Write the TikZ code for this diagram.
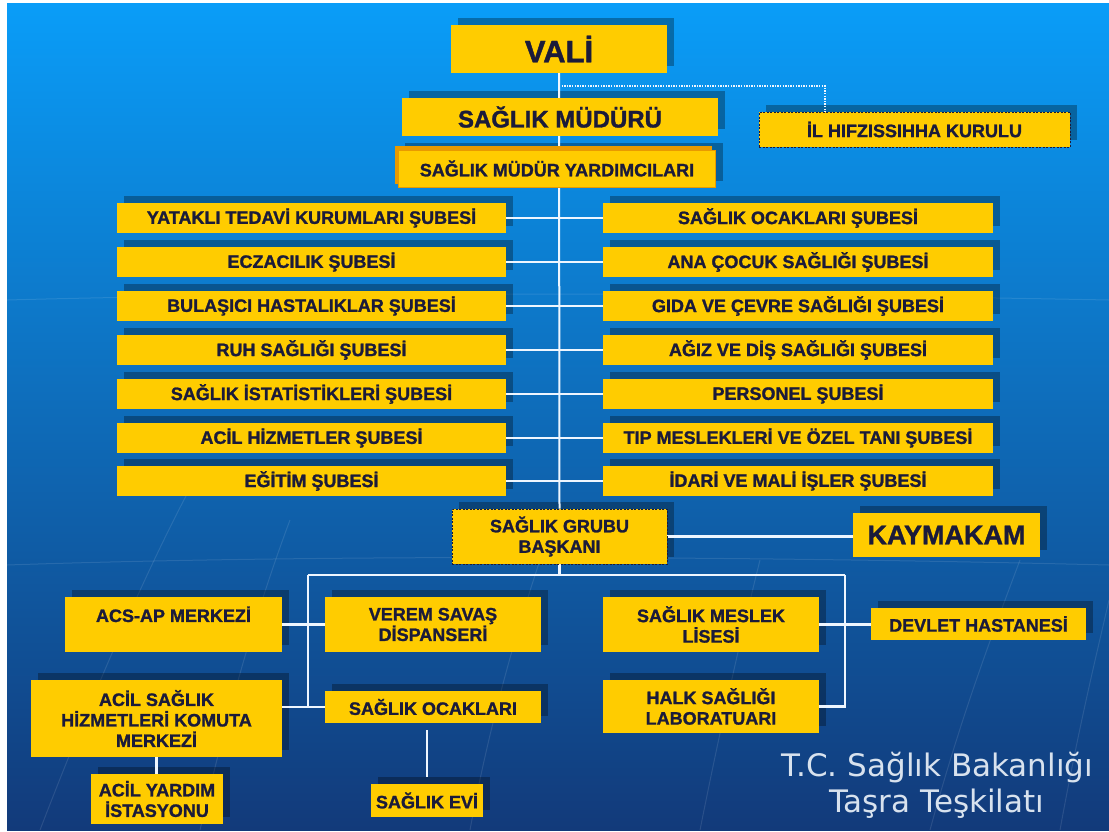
\documentclass[tikz,border=0pt]{standalone}
\usepackage{fontspec}
\setmainfont{Liberation Sans}[BoldFeatures={FakeBold=1.3}]
\newfontfamily\titlefont{DejaVu Sans}
\usetikzlibrary{calc}
\definecolor{boxy}{HTML}{FFCC00}
\definecolor{navy}{HTML}{1B1B3A}
\definecolor{orangec}{HTML}{E89A00}
\definecolor{bgtop}{HTML}{0A9DF8}
\definecolor{bgmid}{HTML}{0A70CA}
\definecolor{bgbot}{HTML}{123A7A}
\definecolor{linec}{HTML}{EEF6FF}
\definecolor{titlec}{HTML}{D8E2EE}
\pgfdeclarelayer{bg}
\pgfdeclarelayer{shad}
\pgfdeclarelayer{lines}
\pgfsetlayers{bg,shad,lines,main}
\tikzset{
  box/.style={fill=boxy, text=navy, inner sep=0pt, align=center,
    font=\bfseries\fontsize{18}{20.5}\selectfont},
  dashbox/.style={box, draw=navy, line width=0.9pt, dash pattern=on 2pt off 1.5pt},
  rowL/.style={box, minimum width=389pt, minimum height=30pt},
  rowR/.style={box, minimum width=390pt, minimum height=30pt},
  conn/.style={draw=linec, line width=2.6pt},
  dotline/.style={draw=linec, line width=2pt, dash pattern=on 1.3pt off 1.3pt},
  globe/.style={draw=white, opacity=0.10, line width=1pt},
  shadowbox/.style={fill=black, opacity=0.3}
}
\begin{document}
\begin{tikzpicture}[x=1pt,y=-1pt]
\useasboundingbox (0,0) rectangle (1109,831);
\begin{pgfonlayer}{bg}
  \fill[white] (0,0) rectangle (1109,831);
  \shade[top color=bgtop, middle color=bgmid, bottom color=bgbot] (7,3) rectangle (1109,830);
  % faint globe lines
  \draw[globe] (40,830) .. controls (90,700) and (150,560) .. (200,470);
  \draw[globe] (200,830) .. controls (230,700) and (260,600) .. (290,520);
  \draw[globe] (470,830) .. controls (490,720) and (520,620) .. (540,560);
  \draw[globe] (700,830) .. controls (720,730) and (740,640) .. (760,560);
  \draw[globe] (930,830) .. controls (960,720) and (990,640) .. (1020,560);
  \draw[globe] (1060,830) .. controls (1080,720) and (1100,640) .. (1109,600);
  \draw[globe] (7,565) .. controls (300,555) and (700,555) .. (1109,565);
  \draw[globe] (7,300) .. controls (300,292) and (700,292) .. (1109,300);
\end{pgfonlayer}

% top
\node[box, minimum width=216pt, minimum height=48pt, font=\bfseries\fontsize{31}{34}\selectfont] (vali) at (559,49) {VALİ};
\node[box, minimum width=316pt, minimum height=38pt, font=\bfseries\fontsize{24}{28}\selectfont] (sm) at (560,117) {SAĞLIK MÜDÜRÜ};
\node[dashbox, minimum width=311pt, minimum height=35pt] (hifz) at (914.5,129.5) {İL HIFZISSIHHA KURULU};
\fill[orangec] (395,146) rectangle (712,184);
\node[box, draw=orangec, line width=1pt, minimum width=317pt, minimum height=37pt] (smy) at (557,168.5) {SAĞLIK MÜDÜR YARDIMCILARI};

% branches
\node[rowL] (l1) at (311.5,218) {YATAKLI TEDAVİ KURUMLARI ŞUBESİ};
\node[rowL] (l2) at (311.5,262) {ECZACILIK ŞUBESİ};
\node[rowL] (l3) at (311.5,306) {BULAŞICI HASTALIKLAR ŞUBESİ};
\node[rowL] (l4) at (311.5,350) {RUH SAĞLIĞI ŞUBESİ};
\node[rowL] (l5) at (311.5,394) {SAĞLIK İSTATİSTİKLERİ ŞUBESİ};
\node[rowL] (l6) at (311.5,438) {ACİL HİZMETLER ŞUBESİ};
\node[rowL] (l7) at (311.5,481) {EĞİTİM ŞUBESİ};
\node[rowR] (r1) at (798,218) {SAĞLIK OCAKLARI ŞUBESİ};
\node[rowR] (r2) at (798,262) {ANA ÇOCUK SAĞLIĞI ŞUBESİ};
\node[rowR] (r3) at (798,306) {GIDA VE ÇEVRE SAĞLIĞI ŞUBESİ};
\node[rowR] (r4) at (798,350) {AĞIZ VE DİŞ SAĞLIĞI ŞUBESİ};
\node[rowR] (r5) at (798,394) {PERSONEL ŞUBESİ};
\node[rowR] (r6) at (798,438) {TIP MESLEKLERİ VE ÖZEL TANI ŞUBESİ};
\node[rowR] (r7) at (798,481) {İDARİ VE MALİ İŞLER ŞUBESİ};

% group head
\node[dashbox, minimum width=215pt, minimum height=55pt] (sgb) at (559.5,536.5) {SAĞLIK GRUBU\\BAŞKANI};
\node[box, minimum width=187pt, minimum height=44pt, font=\bfseries\fontsize{27}{31}\selectfont] (kay) at (946.5,535) {KAYMAKAM};

% lower units
\node[box, minimum width=217pt, minimum height=55pt] (acs) at (173.5,624.5) {ACS-AP MERKEZİ\\\mbox{}};
\node[box, minimum width=216pt, minimum height=55pt] (verem) at (433,624.5) {VEREM SAVAŞ\\DİSPANSERİ};
\node[box, minimum width=251pt, minimum height=77pt] (acil) at (156.5,718.5) {ACİL SAĞLIK\\HİZMETLERİ KOMUTA\\MERKEZİ};
\node[box, minimum width=216pt, minimum height=32pt] (ocak) at (433,707) {SAĞLIK OCAKLARI};
\node[box, minimum width=132pt, minimum height=50pt] (yardim) at (157,799) {ACİL YARDIM\\İSTASYONU};
\node[box, minimum width=112pt, minimum height=33pt] (evi) at (427,800.5) {SAĞLIK EVİ};
\node[box, minimum width=216pt, minimum height=55pt] (meslek) at (711,624.5) {SAĞLIK MESLEK\\LİSESİ};
\node[box, minimum width=216pt, minimum height=53pt] (halk) at (711,706.5) {HALK SAĞLIĞI\\LABORATUARI};
\node[box, minimum width=215pt, minimum height=32pt] (devlet) at (978.5,624) {DEVLET HASTANESİ};

% title
\node[font=\titlefont\fontsize{31}{36}\selectfont, text=titlec, align=center] (title) at (937,785) {T.C. Sağlık Bakanlığı\\Taşra Teşkilatı};

% shadows
\begin{pgfonlayer}{shad}
  \foreach \n in {vali,sm,hifz,smy,l1,l2,l3,l4,l5,l6,l7,r1,r2,r3,r4,r5,r6,r7,sgb,kay,acs,verem,acil,ocak,yardim,evi,meslek,halk,devlet}
    \fill[shadowbox] ([shift={(7pt,7pt)}]\n.south west) rectangle ([shift={(7pt,7pt)}]\n.north east);
\end{pgfonlayer}

% connectors
\coordinate (dotc) at (825,86);
\coordinate (bl) at (308,575);
\coordinate (br) at (845,575);
\begin{pgfonlayer}{lines}
  \draw[conn, line width=2pt] (vali.south) -- (sgb.north);
  \draw[dotline] (vali.south |- dotc) -- (dotc) -- (dotc |- hifz.north);
  \foreach \i in {1,...,7} \draw[conn] (l\i.east) -- (r\i.west);
  \draw[conn] (sgb.east) -- (sgb.east -| kay.west);
  \draw[conn] (sgb.south) -- (sgb.south |- bl);
  \draw[conn] (bl) -- (br);
  \draw[conn] (bl) -- (bl |- ocak.west);
  \draw[conn] (br) -- (br |- halk.east) -- (halk.east);
  \draw[conn] (acs.east) -- (verem.west);
  \draw[conn] (acil.east |- ocak.west) -- (ocak.west);
  \draw[conn] (meslek.east) -- (meslek.east -| devlet.west);
  \draw[conn] (acil.south) -- (acil.south |- yardim.north);
  \draw[conn, shorten <=7pt, shorten >=7pt] (ocak.south -| evi.north) -- (evi.north);
\end{pgfonlayer}
\end{tikzpicture}
\end{document}
